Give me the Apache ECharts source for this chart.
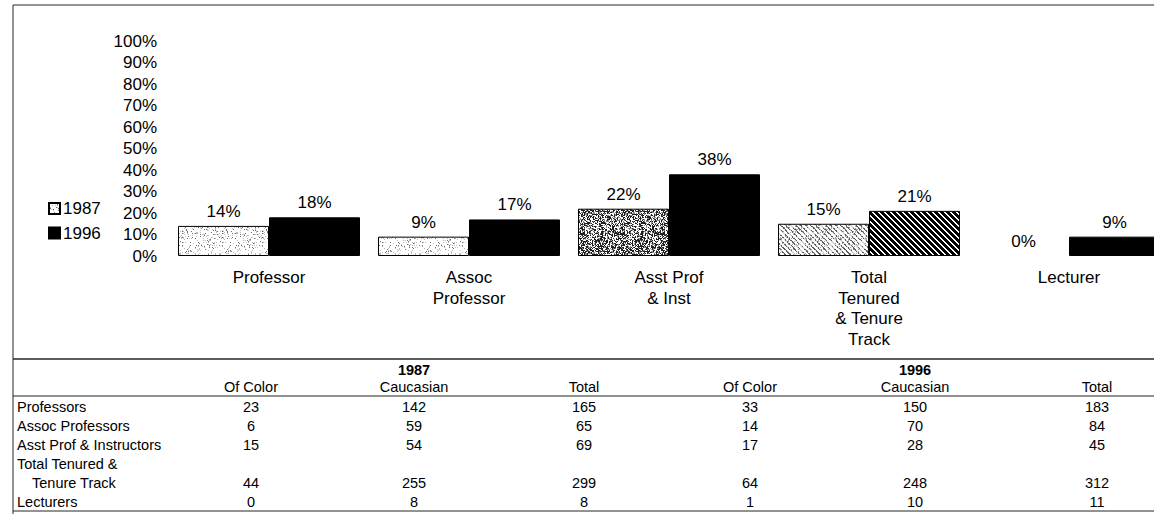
<!DOCTYPE html>
<html>
<head>
<meta charset="utf-8">
<title>Faculty of Color, 1987 and 1996</title>
<script src="https://cdn.jsdelivr.net/npm/echarts/dist/echarts.min.js"></script>
<style>
  html, body { margin: 0; padding: 0; background: #fff; }
  #chart { width: 1154px; height: 514px; }
</style>
</head>
<body>
<div id="chart"></div>
<script>
// ---- chart data: percent of faculty who are of color ----
const categories = ['Professor', 'Assoc\nProfessor', 'Asst Prof\n& Inst', 'Total\nTenured\n& Tenure\nTrack', 'Lecturer'];
const years = ['1987', '1996'];
const pct1987 = [14, 9, 22, 15, 0];
const pct1996 = [18, 17, 38, 21, 9];

// ---- head counts table ----
const tableYears = ['1987', '1996'];
const tableColumns = ['Of Color', 'Caucasian', 'Total', 'Of Color', 'Caucasian', 'Total'];
const tableRowLabels = ['Professors', 'Assoc Professors', 'Asst Prof & Instructors', 'Total Tenured &', 'Tenure Track', 'Lecturers'];
const ofColor1987 = [23, 6, 15, 44, 0];
const caucasian1987 = [142, 59, 54, 255, 8];
const total1987 = [165, 65, 69, 299, 8];
const ofColor1996 = [33, 14, 17, 64, 1];
const caucasian1996 = [150, 70, 28, 248, 10];
const total1996 = [183, 84, 45, 312, 11];

// ---- fill textures ----
function hash2(x, y, seed) {
  let h = Math.imul(x + seed * 131, 374761393) + Math.imul(y, 668265263);
  h = Math.imul(h ^ (h >>> 13), 1274126177);
  h = h ^ (h >>> 16);
  return (h >>> 0) / 4294967296;
}
function texture(size, paint) {
  const c = document.createElement('canvas');
  c.width = size; c.height = size;
  const ctx = c.getContext('2d');
  for (let y = 0; y < size; y++) {
    for (let x = 0; x < size; x++) {
      ctx.fillStyle = paint(x, y);
      ctx.fillRect(x, y, 1, 1);
    }
  }
  return { image: c, repeat: 'repeat', imageWidth: size, imageHeight: size };
}
const lightStipple = texture(40, (x, y) => {
  const r = hash2(x, y, 1);
  return r < 0.06 ? '#707070' : r < 0.17 ? '#bcbcbc' : '#ffffff';
});
const darkStipple = texture(40, (x, y) => {
  const r = hash2(x, y, 2);
  return r < 0.42 ? '#1e1e1e' : r < 0.6 ? '#8a8a8a' : '#ffffff';
});
const lightHatch = texture(30, (x, y) => {
  const r = hash2(x, y, 3);
  const onStripe = ((x - y) % 5 + 5) % 5 < 2;
  if (onStripe) return r < 0.5 ? '#5e5e5e' : '#d4d4d4';
  return r < 0.1 ? '#a0a0a0' : '#ffffff';
});
const darkHatch = texture(30, (x, y) => {
  const onStripe = ((x - y) % 6 + 6) % 6 < 2;
  return onStripe ? '#ffffff' : '#000000';
});

const fill1987 = [lightStipple, lightStipple, darkStipple, lightHatch, lightStipple];
const fill1996 = ['#000000', '#000000', '#000000', darkHatch, '#000000'];

const FONT = '"Liberation Sans", Arial, Helvetica, sans-serif';

// ---- table drawn as graphic elements ----
const LINE = '#262626';
const TABLE_FONT = 14.5;
const colX = [251, 414, 584, 750, 915, 1097];
const yearX = [414, 915];
const rowY0 = 407, rowStep = 18.9;
const numberRows = [0, 1, 2, 4, 5];
const columns = [ofColor1987, caucasian1987, total1987, ofColor1996, caucasian1996, total1996];

const graphics = [];
function hline(y, w) {
  graphics.push({ type: 'line', silent: true, shape: { x1: 13, y1: y, x2: 1154, y2: y }, style: { stroke: LINE, lineWidth: w || 1 } });
}
function label(text, x, y, align, size, weight) {
  graphics.push({
    type: 'text', silent: true, x: x, y: y,
    style: { text: String(text), fill: '#000', align: align, verticalAlign: 'middle',
             fontSize: size, fontFamily: FONT, fontWeight: weight || 'normal' }
  });
}
// frame and rules
graphics.push({ type: 'line', silent: true, shape: { x1: 13, y1: 5, x2: 13, y2: 514 }, style: { stroke: LINE, lineWidth: 1 } });
hline(5, 1);
hline(359, 1.5);
hline(396, 1);
hline(511, 1);
tableYears.forEach((t, i) => label(t, yearX[i], 370, 'center', TABLE_FONT, 'bold'));
tableColumns.forEach((t, i) => label(t, colX[i], 387, 'center', TABLE_FONT));
tableRowLabels.forEach((t, i) => label(t, i === 4 ? 32 : 17, rowY0 + i * rowStep, 'left', TABLE_FONT));
columns.forEach((col, c) => {
  col.forEach((v, r) => label(v, colX[c], rowY0 + numberRows[r] * rowStep, 'center', TABLE_FONT));
});

// zero-height bars get no outline
function barItems(values, fills) {
  return values.map((v, i) => ({
    value: v,
    itemStyle: { color: fills[i], borderWidth: v === 0 ? 0 : 1 }
  }));
}

const chart = echarts.init(document.getElementById('chart'), null, { renderer: 'svg' });
chart.setOption({
  backgroundColor: '#ffffff',
  animation: false,
  textStyle: { fontFamily: FONT, color: '#000' },
  grid: { left: 169, right: -15, top: 41, bottom: 258, containLabel: false, outerBoundsMode: 'none' },
  legend: {
    data: years,
    orient: 'vertical',
    left: 43, top: 195,
    itemWidth: 11, itemHeight: 11, itemGap: 7.5,
    icon: 'rect',
    textStyle: { fontSize: 17, color: '#000', fontFamily: FONT, padding: [0, 0, 0, -2] }
  },
  xAxis: {
    type: 'category',
    data: categories,
    axisLine: { show: false },
    axisTick: { show: false },
    axisLabel: { fontSize: 17, lineHeight: 20.7, color: '#000', margin: 11, interval: 0, fontFamily: FONT }
  },
  yAxis: {
    type: 'value',
    min: 0, max: 100, interval: 10,
    axisLine: { show: false },
    axisTick: { show: false },
    splitLine: { show: false },
    axisLabel: { formatter: '{value}%', fontSize: 17, color: '#000', margin: 12, fontFamily: FONT }
  },
  series: [
    {
      name: years[0], type: 'bar', barWidth: 91, barGap: '0%',
      itemStyle: { color: lightStipple, borderColor: '#000', borderWidth: 1 },
      label: { show: true, position: 'top', distance: 6, formatter: '{c}%', fontSize: 17, color: '#000', fontFamily: FONT },
      data: barItems(pct1987, fill1987)
    },
    {
      name: years[1], type: 'bar', barWidth: 91, barGap: '0%',
      itemStyle: { color: '#000000', borderColor: '#000', borderWidth: 1 },
      label: { show: true, position: 'top', distance: 6, formatter: '{c}%', fontSize: 17, color: '#000', fontFamily: FONT },
      data: barItems(pct1996, fill1996)
    }
  ],
  graphic: graphics
});
</script>
</body>
</html>
